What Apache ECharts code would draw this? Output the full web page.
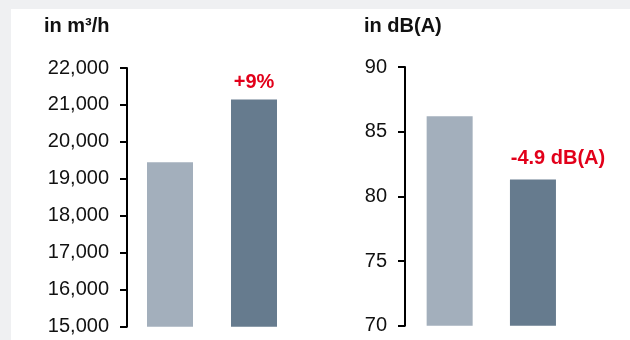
<!DOCTYPE html>
<html>
<head>
<meta charset="utf-8">
<script src="https://cdn.jsdelivr.net/npm/echarts@6/dist/echarts.min.js"></script>
<style>
  html, body { margin: 0; padding: 0; background: #eff0f2; }
  #chart { width: 630px; height: 340px; }
</style>
</head>
<body>
<div id="chart"></div>
<script>
// ---- data ----
const categories = ['previous', 'new'];
const airflowValues = [19450, 21150];          // m³/h
const noiseValues = [86.2, 81.3];              // dB(A)
const airflowTicks = [15000, 16000, 17000, 18000, 19000, 20000, 21000, 22000];
const noiseTicks = [70, 75, 80, 85, 90];
const airflowTitle = 'in m³/h';
const noiseTitle = 'in dB(A)';
const airflowChange = '+9%';
const noiseChange = '-4.9 dB(A)';

// ---- styles ----
const FONT = "'Liberation Sans', Arial, Helvetica, sans-serif";
const barColors = ['#a3afbc', '#667b8e'];
const accent = '#e2001a';

const chart = echarts.init(document.getElementById('chart'), null, { renderer: 'canvas' });

function barData(values, changeText, labelOffset) {
  return values.map((v, i) => {
    const item = { value: v, itemStyle: { color: barColors[i] } };
    if (i === values.length - 1) {
      item.label = {
        show: true,
        position: 'top',
        formatter: changeText,
        color: accent,
        fontFamily: FONT,
        fontWeight: 'bold',
        fontSize: 20,
        distance: 7,
        offset: labelOffset
      };
    }
    return item;
  });
}

function valueAxis(gridIndex, ticks, offset, fmt) {
  return {
    type: 'value',
    gridIndex,
    min: ticks[0],
    max: ticks[ticks.length - 1],
    interval: ticks[1] - ticks[0],
    offset,
    axisLine: { show: true, lineStyle: { color: '#000', width: 2 } },
    axisTick: { show: true, length: 7, lineStyle: { color: '#000', width: 2 } },
    splitLine: { show: false },
    axisLabel: {
      margin: 18,
      color: '#111',
      fontFamily: FONT,
      fontSize: 20,
      formatter: fmt
    }
  };
}

const option = {
  backgroundColor: '#eff0f2',
  animation: false,
  graphic: [
    { type: 'rect', shape: { x: 11, y: 9, width: 619, height: 331 }, style: { fill: '#fff' }, z: -10 },
    { type: 'text', x: 44, y: 26, style: { text: airflowTitle, font: 'bold 20px ' + FONT, fill: '#111', textVerticalAlign: 'middle' } },
    { type: 'text', x: 364, y: 26, style: { text: noiseTitle, font: 'bold 20px ' + FONT, fill: '#111', textVerticalAlign: 'middle' } }
  ],
  grid: [
    { left: 128, width: 168, top: 68, bottom: 13.3 },
    { left: 408, width: 166.6, top: 67, bottom: 14.3 }
  ],
  xAxis: [
    { type: 'category', gridIndex: 0, data: categories, show: false },
    { type: 'category', gridIndex: 1, data: categories, show: false }
  ],
  yAxis: [
    valueAxis(0, airflowTicks, 1, v => v.toLocaleString('en-US')),
    valueAxis(1, noiseTicks, 3, v => String(v))
  ],
  series: [
    {
      type: 'bar', xAxisIndex: 0, yAxisIndex: 0, barWidth: 46,
      data: barData(airflowValues, airflowChange, [0, 0])
    },
    {
      type: 'bar', xAxisIndex: 1, yAxisIndex: 1, barWidth: 46,
      data: barData(noiseValues, noiseChange, [25, -4])
    }
  ]
};

chart.setOption(option);
</script>
</body>
</html>
